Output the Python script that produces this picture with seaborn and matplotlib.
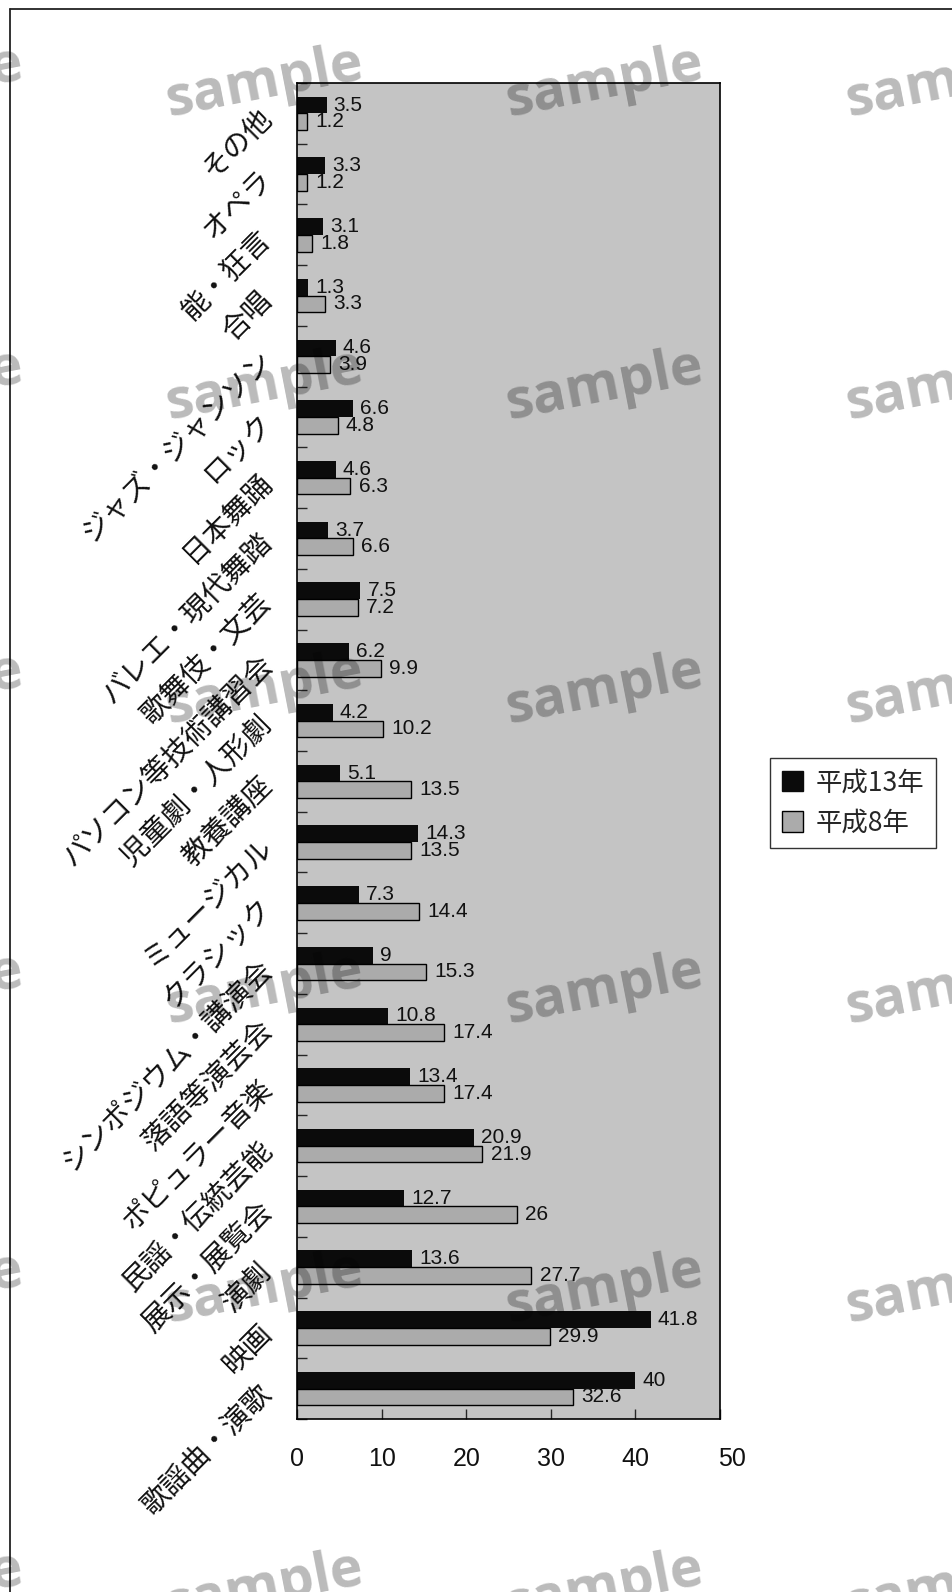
import numpy as np
import pandas as pd
import matplotlib
matplotlib.use("Agg")
import matplotlib.pyplot as plt
from matplotlib.patches import Patch
from matplotlib.lines import Line2D
from matplotlib.ticker import FixedLocator
from matplotlib.transforms import ScaledTranslation
import seaborn as sns

# 鑑賞・参加した催し物の割合(%)
categories = ["その他", "オペラ", "能・狂言", "合唱", "ジャズ・ジャンソン", "ロック",
              "日本舞踊", "バレエ・現代舞踏", "歌舞伎・文芸", "パソコン等技術講習会",
              "児童劇・人形劇", "教養講座", "ミュージカル", "クラシック",
              "シンポジウム・講演会", "落語等演芸会", "ポピュラー音楽", "民謡・伝統芸能",
              "展示・展覧会", "演劇", "映画", "歌謡曲・演歌"]
h13 = [3.5, 3.3, 3.1, 1.3, 4.6, 6.6, 4.6, 3.7, 7.5, 6.2, 4.2, 5.1, 14.3, 7.3,
       9, 10.8, 13.4, 20.9, 12.7, 13.6, 41.8, 40]
h8 = [1.2, 1.2, 1.8, 3.3, 3.9, 4.8, 6.3, 6.6, 7.2, 9.9, 10.2, 13.5, 13.5, 14.4,
      15.3, 17.4, 17.4, 21.9, 26, 27.7, 29.9, 32.6]
series = ["平成13年", "平成8年"]
x_ticks = [0, 10, 20, 30, 40, 50]

df = pd.DataFrame({
    "category": categories * 2,
    "value": h13 + h8,
    "year": [series[0]] * len(categories) + [series[1]] * len(categories),
})

BLACK = "#0b0b0b"
GREY = "#ababab"
PANEL = "#c4c4c4"

sns.set_theme(style="white")
plt.rcParams["font.family"] = ["Noto Sans CJK JP", "DejaVu Sans"]

W, H = 952, 1592
fig = plt.figure(figsize=(W / 100, H / 100), dpi=100)
fig.patch.set_facecolor("white")
ax = fig.add_axes([297 / W, 1 - 1419 / H, (720 - 297) / W, (1419 - 83) / H])

sns.barplot(data=df, x="value", y="category", hue="year", hue_order=series,
            order=categories, orient="h", palette=[BLACK, GREY], width=0.55,
            saturation=1, errorbar=None, legend=False, linewidth=0, ax=ax)

for p in ax.containers[1]:
    p.set_edgecolor("black")
    p.set_linewidth(1.0)

# value labels: upper series nudged up, lower series nudged down
for cont, vals, pad, dy in [(ax.containers[0], h13, 5, 0.025),
                            (ax.containers[1], h8, 6, -0.025)]:
    texts = ax.bar_label(cont, labels=[f"{v:g}" for v in vals], padding=pad,
                         fontsize=15, fontfamily="Liberation Sans", color="#111")
    for t in texts:
        t.set_transform(t.get_transform() + ScaledTranslation(0, dy, fig.dpi_scale_trans))

ax.set_xlim(0, 50)
ax.set_ylim(len(categories) - 0.5, -0.5)
ax.set_facecolor(PANEL)
ax.set_xlabel("")
ax.set_ylabel("")
for s in ax.spines.values():
    s.set_visible(True)
    s.set_color("black")
    s.set_linewidth(1.2)

ax.set_xticks(x_ticks)
ax.tick_params(axis="x", which="major", bottom=True, direction="in", length=7,
               width=1, pad=20, labelsize=18, labelcolor="#111")
xlabels = ax.get_xticklabels()
for lbl in xlabels:
    lbl.set_fontfamily("Liberation Sans")
xlabels[-1].set_transform(xlabels[-1].get_transform()
                          + ScaledTranslation(0.12, 0, fig.dpi_scale_trans))

ax.tick_params(axis="y", which="major", left=True, length=0, pad=21)
ax.yaxis.set_minor_locator(FixedLocator(np.arange(-0.5, len(categories), 1.0)))
ax.tick_params(axis="y", which="minor", left=True, direction="in", length=7, width=1)
for lbl in ax.get_yticklabels():
    lbl.set_rotation(45)
    lbl.set_ha("right")
    lbl.set_va("center")
    lbl.set_rotation_mode("anchor")
    lbl.set_fontsize(20.5)
    lbl.set_color("#111")

handles = [Patch(facecolor=BLACK, edgecolor=BLACK),
           Patch(facecolor=GREY, edgecolor="black", linewidth=1)]
leg = fig.legend(handles, series, loc="center", bbox_to_anchor=(853 / W, 1 - 803 / H),
                 frameon=True, fancybox=False, edgecolor="black", fontsize=19,
                 handlelength=0.8, handleheight=0.8, handletextpad=0.45,
                 labelspacing=0.5, borderpad=0.45, borderaxespad=0)
leg.get_frame().set_linewidth(1.0)
leg.get_frame().set_facecolor("white")

# page frame
fig.add_artist(Line2D([10 / W, 10 / W], [0, 1 - 9 / H], transform=fig.transFigure,
                      color="#222", lw=1.3))
fig.add_artist(Line2D([10 / W, 1], [1 - 9 / H, 1 - 9 / H], transform=fig.transFigure,
                      color="#222", lw=1.3))

# "sample" stamp grid
stamp_cols = [-75, 265, 605, 945]
stamp_rows = [83, 386, 690, 990, 1289, 1588]
for yy in stamp_rows:
    for xx in stamp_cols:
        fig.text(xx / W, 1 - yy / H, "sample", fontsize=40, fontfamily="Open Sans",
                 fontweight="bold", color="black", alpha=0.27, rotation=11,
                 ha="center", va="center", zorder=20)

fig.savefig("out.png", dpi=100)
